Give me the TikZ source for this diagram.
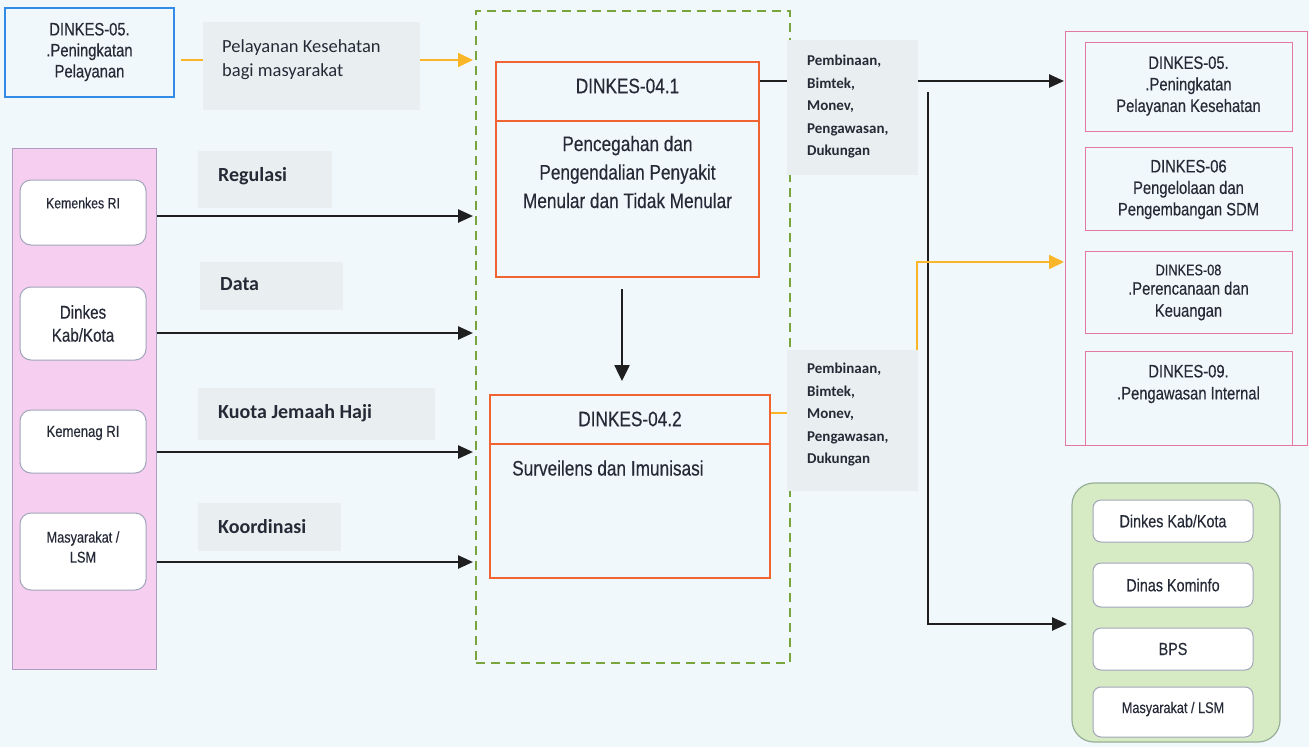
\documentclass[tikz,border=0pt]{standalone}
\usepackage{fontspec}
\newfontfamily\arn{Liberation Sans}[FakeStretch=0.82,FakeBold=0.35]
\newfontfamily\calfont{Carlito}
\usetikzlibrary{arrows.meta,fit}
\definecolor{bgc}{RGB}{240,248,251}
\definecolor{lblbg}{RGB}{233,239,240}
\definecolor{pinkfill}{RGB}{245,206,240}
\definecolor{pinkedge}{RGB}{175,155,195}
\definecolor{greenfill}{RGB}{214,234,196}
\definecolor{greenedge}{RGB}{150,175,150}
\definecolor{orangeb}{RGB}{240,100,50}
\definecolor{yell}{RGB}{250,182,40}
\definecolor{blueb}{RGB}{50,140,230}
\definecolor{dashgreen}{RGB}{120,165,60}
\definecolor{rpink}{RGB}{228,120,160}
\definecolor{txt}{RGB}{38,42,55}
\definecolor{wboxedge}{RGB}{160,165,185}
\newcommand{\fz}[2]{\fontsize{#1}{#2}\selectfont}
\begin{document}
\begin{tikzpicture}[x=1pt,y=-1pt,
  box/.style={inner sep=0pt, outer sep=0pt},
  tx/.style={inner sep=0pt, text=txt, align=center},
  lbl/.style={box, fill=lblbg},
  ctx/.style={tx, align=left, anchor=west},
  blk/.style={line width=2.5pt, draw=black!88, -{Triangle[length=15pt,width=13pt]}},
  yl/.style={line width=2pt, draw=yell},
  orbox/.style={box, draw=orangeb, line width=2pt},
  wbox/.style={box, draw=wboxedge, line width=1pt, fill=white, rounded corners=11pt},
  gwbox/.style={box, draw=wboxedge, line width=1pt, fill=white, rounded corners=8pt},
  rpbox/.style={box, draw=rpink, line width=1pt}
]
\useasboundingbox (0,0) rectangle (1309,747);
\fill[bgc] (0,0) rectangle (1309,747);

% ---------- containers ----------
\node[box, draw=blueb, line width=2pt, fit={(5,8) (174,97)}] (blue) {};
\node[box, fill=pinkfill, draw=pinkedge, line width=1pt, fit={(12,148) (156,669)}] (lp) {};
\node[box, draw=dashgreen, line width=1.8pt, dash pattern=on 9pt off 6pt, fit={(476,11) (790,663)}] (cont) {};
\node[box, draw=rpink, line width=1pt, fit={(1065,31) (1307,445)}] (rp) {};
\node[box, fill=greenfill, draw=greenedge, line width=1.2pt, rounded corners=22pt, fit={(1072,483) (1280,742)}] (gb) {};

% ---------- left inner boxes ----------
\node[wbox, fit={(20,180) (146,245)}] (kem) {};
\node[wbox, fit={(20,287) (146,360)}] (dkk) {};
\node[wbox, fit={(20,410) (146,473)}] (kmg) {};
\node[wbox, fit={(20,513) (146,590)}] (msy) {};
\node[tx, font=\arn\fz{15}{18}] (kemT) at (83,203) {Kemenkes RI};
\node[tx, font=\arn\fz{18.5}{23}] (dkkT) at (83,323.5) {Dinkes\\Kab/Kota};
\node[tx, font=\arn\fz{16}{19}] (kmgT) at (83,433) {Kemenag RI};
\node[tx, font=\arn\fz{15.5}{20}] (msyT) at (83,547) {Masyarakat /\\LSM};

% ---------- blue box text ----------
\node[tx, font=\arn\fz{18}{21}] (blueT) at (89.5,52) {DINKES-05.\\.Peningkatan\\Pelayanan};

% ---------- central boxes ----------
\node[orbox, fit={(496,62) (759,277)}] (a41) {};
\draw[orangeb, line width=2pt] (a41.west |- 0,121) -- (a41.east |- 0,121);
\node[tx, font=\arn\fz{21}{24}] (a41h) at (627.5,86) {DINKES-04.1};
\node[tx, font=\arn\fz{21}{28.5}] (a41b) at (627.5,172) {Pencegahan dan\\Pengendalian Penyakit\\Menular dan Tidak Menular};

\node[orbox, fit={(490,395) (770,578)}] (a42) {};
\draw[orangeb, line width=2pt] (a42.west |- 0,444) -- (a42.east |- 0,444);
\node[tx, font=\arn\fz{21}{24}] (a42h) at (630,419) {DINKES-04.2};
\node[ctx, font=\arn\fz{21}{25}] (a42b) at (512,468) {Surveilens dan Imunisasi};

% ---------- right pink boxes ----------
\node[rpbox, fit={(1085,42) (1292,131)}] (d05) {};
\node[rpbox, fit={(1085,147) (1292,230)}] (d06) {};
\node[rpbox, fit={(1085,251) (1292,333)}] (d08) {};
\node[rpbox, fit={(1085,351) (1292,445)}] (d09) {};
\node[tx, font=\arn\fz{18}{21.5}] (d05T) at (1188.5,86) {DINKES-05.\\.Peningkatan\\Pelayanan Kesehatan};
\node[tx, font=\arn\fz{18}{21.5}] (d06T) at (1188.5,189.5) {DINKES-06\\Pengelolaan dan\\Pengembangan SDM};
\node[tx, font=\arn\fz{15.5}{18}] (d08a) at (1188.5,270) {DINKES-08};
\node[tx, font=\arn\fz{18}{22}] (d08T) at (1188.5,301) {.Perencanaan dan\\Keuangan};
\node[tx, font=\arn\fz{18}{22}] (d09T) at (1188.5,384) {DINKES-09.\\.Pengawasan Internal};

% ---------- green inner boxes ----------
\node[gwbox, fit={(1093,500) (1253,542)}] (g1) {};
\node[gwbox, fit={(1093,563) (1253,607)}] (g2) {};
\node[gwbox, fit={(1093,628) (1253,670)}] (g3) {};
\node[gwbox, fit={(1093,687) (1253,737)}] (g4) {};
\node[tx, font=\arn\fz{17.5}{20}] (g1T) at (g1.center) {Dinkes Kab/Kota};
\node[tx, font=\arn\fz{17.5}{20}] (g2T) at (g2.center) {Dinas Kominfo};
\node[tx, font=\arn\fz{17.5}{20}] (g3T) at (g3.center) {BPS};
\node[tx, font=\arn\fz{15.5}{20}] (g4T) at (1173,709) {Masyarakat / LSM};

% ---------- connectors ----------
\coordinate (py) at (181,60);
\draw[yl, -{Triangle[length=15pt,width=14pt]}, shorten >=3pt] (py) -- (py -| cont.west);

\coordinate (cR) at (157,216);
\coordinate (cD) at (157,333);
\coordinate (cK) at (157,452);
\coordinate (cM) at (157,562);
\draw[blk, shorten >=3pt] (cR) -- (cR -| cont.west);
\draw[blk, shorten >=3pt] (cD) -- (cD -| cont.west);
\draw[blk, shorten >=3pt] (cK) -- (cK -| cont.west);
\draw[blk, shorten >=3pt] (cM) -- (cM -| cont.west);

\draw[blk, -{Triangle[length=16pt,width=15pt]}, shorten <=12pt, shorten >=14pt]
  ([xshift=-5.5pt]a41.south) -- ([xshift=-5.5pt]a41.south |- a42.north);

\coordinate (h1) at (760,81);
\draw[blk, shorten >=1pt] (h1) -- (h1 -| rp.west);

\coordinate (v1) at (928,92);
\coordinate (v2) at (928,624);
\draw[blk, shorten >=5pt] (v1) -- (v2) -- (v2 -| gb.west);

\coordinate (y1) at (771,413);
\coordinate (y2) at (917,413);
\coordinate (y3) at (917,262);
\draw[yl, -{Triangle[length=15pt,width=14pt]}, shorten >=1pt] (y1) -- (y2) -- (y3) -- (y3 -| rp.west);

% ---------- labels (on top) ----------
\node[lbl, fit={(203,22) (420,110)}] (pel) {};
\node[ctx, font=\calfont\fz{18.5}{24}] (pelT) at (222,60) {Pelayanan Kesehatan\\bagi masyarakat};

\node[lbl, fit={(198,151) (332,208)}] (reg) {};
\node[ctx, font=\calfont\bfseries\fz{20}{24}] (regT) at (218,176) {Regulasi};
\node[lbl, fit={(200,262) (343,310)}] (dat) {};
\node[ctx, font=\calfont\bfseries\fz{20}{24}] (datT) at (220,284) {Data};
\node[lbl, fit={(198,388) (435,440)}] (kuo) {};
\node[ctx, font=\calfont\bfseries\fz{20}{24}] (kuoT) at (218,413) {Kuota Jemaah Haji};
\node[lbl, fit={(198,503) (341,551)}] (koo) {};
\node[ctx, font=\calfont\bfseries\fz{20}{24}] (kooT) at (218,527) {Koordinasi};

\node[lbl, fit={(787,40) (918,175)}] (pb1) {};
\node[ctx, font=\calfont\bfseries\fz{15}{22.5}] (pb1T) at (807,107) {Pembinaan,\\Bimtek,\\Monev,\\Pengawasan,\\Dukungan};
\node[lbl, fit={(787,350) (918,491)}] (pb2) {};
\node[ctx, font=\calfont\bfseries\fz{15}{22.5}] (pb2T) at (807,415) {Pembinaan,\\Bimtek,\\Monev,\\Pengawasan,\\Dukungan};
\end{tikzpicture}
\end{document}
